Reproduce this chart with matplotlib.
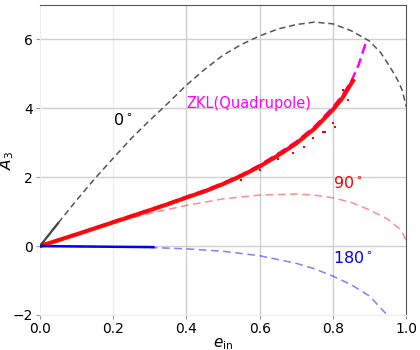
import matplotlib
matplotlib.use("Agg")
import matplotlib.pyplot as plt

# ----------------------------------------
# Data
# ----------------------------------------

# 0 deg curve (gray dashed)
e_0 = [0.0, 0.05, 0.1, 0.15, 0.2, 0.25, 0.3, 0.35, 0.4, 0.45, 0.5, 0.55, 0.6, 0.65,
       0.7, 0.75, 0.8, 0.85, 0.9, 0.93, 0.95, 0.97, 0.98, 0.99, 1.0]
a_0 = [0.0, 0.67, 1.33, 1.96, 2.55, 3.13, 3.65, 4.15, 4.67, 5.13, 5.54, 5.85, 6.1, 6.3,
       6.43, 6.5, 6.45, 6.25, 5.95, 5.62, 5.3, 4.95, 4.75, 4.5, 4.05]

# ZKL (Quadrupole) curve (magenta dashed)
e_zkl = [0.0, 0.1, 0.2, 0.3, 0.35, 0.4, 0.45, 0.5, 0.55, 0.6, 0.65, 0.7, 0.75, 0.8,
         0.825, 0.85, 0.87, 0.893]
a_zkl = [0.0, 0.35, 0.71, 1.06, 1.24, 1.43, 1.62, 1.83, 2.07, 2.35, 2.68, 3.03, 3.47, 4.03,
         4.36, 4.78, 5.25, 6.0]

# 90 deg curve (light red dashed)
e_90 = [0.0, 0.1, 0.2, 0.3, 0.4, 0.5, 0.6, 0.7, 0.75, 0.8, 0.85, 0.9, 0.95, 0.98, 0.99, 1.0]
a_90 = [0.0, 0.35, 0.68, 0.95, 1.18, 1.37, 1.48, 1.51, 1.48, 1.4, 1.27, 1.05, 0.78, 0.52, 0.38, 0.17]

# 180 deg curve (light blue dashed)
e_180 = [0.0, 0.1, 0.2, 0.3, 0.4, 0.5, 0.6, 0.7, 0.75, 0.8, 0.85, 0.9, 0.95, 0.97]
a_180 = [0.0, -0.01, -0.02, -0.04, -0.08, -0.15, -0.28, -0.5, -0.66, -0.87, -1.12, -1.45, -2.02, -2.4]

# simulation points (red band along the ZKL curve + scattered outliers)
e_sim_red = [0.0, 0.1, 0.2, 0.3, 0.35, 0.4, 0.45, 0.5, 0.55, 0.6, 0.65, 0.7, 0.75, 0.8,
             0.825, 0.845, 0.855]
a_sim_red = [0.0, 0.34, 0.69, 1.04, 1.22, 1.41, 1.59, 1.80, 2.04, 2.31, 2.63, 2.98, 3.41, 3.96,
             4.28, 4.63, 4.8]
e_out = [0.55, 0.6, 0.65, 0.69, 0.72, 0.746, 0.751, 0.773, 0.779, 0.80, 0.805, 0.828, 0.84]
a_out = [1.92, 2.2, 2.52, 2.69, 2.87, 3.13, 3.39, 3.3, 3.31, 3.56, 3.45, 4.52, 4.23]

e_sim_gray = [0.0, 0.05]
a_sim_gray = [0.0, 0.67]
e_sim_blue = [0.0, 0.1, 0.2, 0.31]
a_sim_blue = [0.0, -0.01, -0.02, -0.03]

# ----------------------------------------
# Figure
# ----------------------------------------
fig = plt.figure(figsize=(4.2, 3.5), dpi=100)
ax = fig.add_axes([0.095, 0.1, 0.872, 0.886])

ax.plot(e_0, a_0, color='#555555', linestyle=(0, (4, 2.5)), linewidth=1.1, zorder=2)
ax.plot(e_90, a_90, color='red', alpha=0.45, linestyle=(0, (5, 3)), linewidth=1.1, zorder=2)
ax.plot(e_180, a_180, color='blue', alpha=0.5, linestyle=(0, (5, 3)), linewidth=1.1, zorder=2)

ax.plot(e_zkl, a_zkl, color='magenta', linestyle=(0, (4, 2)), linewidth=1.8, zorder=3)
ax.plot(e_sim_red, a_sim_red, color='red', linewidth=3.0, alpha=0.95, zorder=4)
ax.plot(e_out, a_out, 's', color='red', markersize=1.6, markeredgewidth=0, zorder=5)
ax.plot(e_sim_gray, a_sim_gray, color='#444444', linewidth=1.6, zorder=4)
ax.plot(e_sim_blue, a_sim_blue, color='blue', linewidth=1.8, zorder=4)

# labels on the curves
ax.text(0.2, 3.5, r"0$^\circ$", fontsize=11.5, color='black')
ax.text(0.4, 4.0, "ZKL(Quadrupole)", fontsize=10.5, color='magenta')
ax.text(0.8, 1.7, r"90$^\circ$", fontsize=11.5, color='red')
ax.text(0.8, -0.5, r"180$^\circ$", fontsize=11.5, color='blue')

ax.set_xlim(0, 1.0)
ax.set_ylim(-2, 7)
ax.set_xticks([0.0, 0.2, 0.4, 0.6, 0.8, 1.0])
ax.set_yticks([-2, 0, 2, 4, 6])
ax.tick_params(labelsize=10, length=3, pad=2, color='#999999')

ax.set_xlabel(r"$e_{\rm in}$", fontsize=11, labelpad=0)
ax.set_ylabel(r"$A_3$", fontsize=11)
ax.yaxis.set_label_coords(-0.066, 0.5)

# grid: some lines are lighter in the reference
ax.set_axisbelow(True)
for x in [0.4, 0.6, 0.8]:
    ax.axvline(x, color='#d0d0d0', linewidth=1, zorder=0)
for x in [0.2]:
    ax.axvline(x, color='#f0f0f0', linewidth=1, zorder=0)
for y in [0, 2, 4, 6]:
    ax.axhline(y, color='#d0d0d0', linewidth=1, zorder=0)
ax.axhline(-2, color='#f0f0f0', linewidth=1, zorder=0)

for s in ['left', 'bottom']:
    ax.spines[s].set_color('#eeeeee')
for s in ['top', 'right']:
    ax.spines[s].set_color('#555555')

fig.savefig("out.png", dpi=100)
